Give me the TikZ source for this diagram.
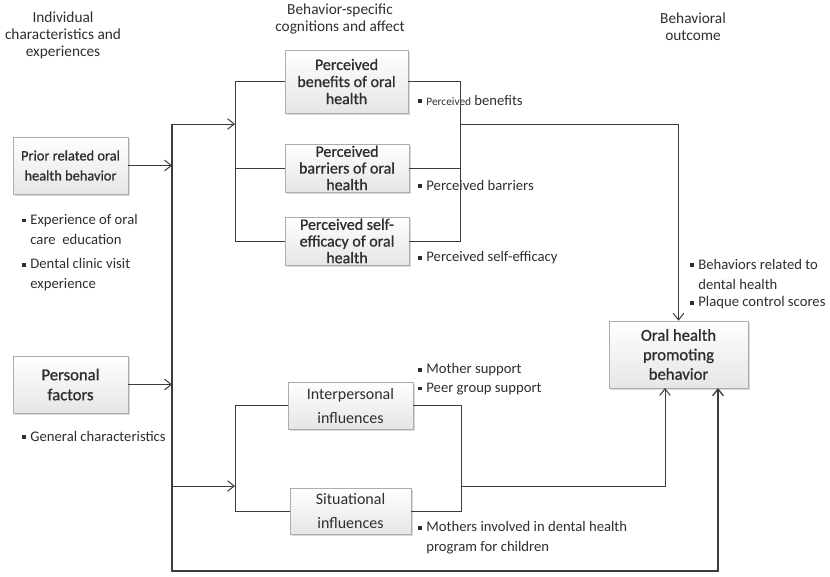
\documentclass[tikz,border=0pt]{standalone}
\usepackage{fontspec}
\setmainfont{Carlito}
\newfontfamily\semibf{Carlito}[FakeBold=0.9]
\usetikzlibrary{arrows.meta,shadows,calc}
\definecolor{ln}{HTML}{3C3C3C}
\definecolor{tx}{HTML}{2E2E2E}
\newcommand{\bul}{\rule[0.32ex]{2.6pt}{2.6pt}\hspace{3.5pt}}
\begin{document}
\begin{tikzpicture}[x=0.75pt,y=-0.75pt,
  box/.style 2 args={draw=gray!65, top color=white, bottom color=gray!20,
    drop shadow={shadow xshift=1.3pt,shadow yshift=-1.3pt,opacity=0.3},
    align=center, inner sep=0pt, text=tx,
    minimum width=#1*0.75pt, minimum height=#2*0.75pt},
  head/.style={align=center, text=tx, font=\fontsize{11.5}{12.8}\selectfont},
  note/.style={align=left, anchor=west, text=tx, inner sep=0pt, font=\fontsize{11}{15}\selectfont},
  conn/.style={draw=ln, line width=0.75pt},
  arr/.style={conn, -{Straight Barb[length=5pt,width=8pt]}}]
\useasboundingbox (0,0) rectangle (830,576);

% headings
\node[head] (h1) at (63,35) {Individual\\characteristics and\\experiences};
\node[head] (h2) at (340,19) {Behavior-specific\\cognitions and affect};
\node[head] (h3) at (693,27) {Behavioral\\outcome};

% boxes
\node[box={123}{63}, font=\semibf\fontsize{12}{12.8}\selectfont] (ben) at (346.5,81.5) {Perceived\\benefits of oral\\health};
\node[box={124}{48}, font=\semibf\fontsize{12}{12.5}\selectfont] (bar) at (347,168) {Perceived\\barriers of oral\\health};
\node[box={124}{48}, font=\semibf\fontsize{12}{12.5}\selectfont] (eff) at (347,241) {Perceived self-\\efficacy of oral\\health};
\node[box={115}{57}, font=\semibf\fontsize{10.8}{15}\selectfont] (prior) at (70.5,165.5) {Prior related oral\\health behavior};
\node[box={115}{57}, font=\semibf\fontsize{12.5}{15}\selectfont] (pers) at (70.5,384.5) {Personal\\factors};
\node[box={125}{47}, font=\fontsize{12}{18}\selectfont] (inter) at (350.5,405.5) {Interpersonal\\influences};
\node[box={121}{46}, font=\fontsize{12}{18}\selectfont] (sit) at (350.5,511) {Situational\\influences};
\node[box={139}{67}, font=\semibf\fontsize{12.5}{14.6}\selectfont] (oral) at (678.5,354.5) {Oral health\\promoting\\behavior};

% notes
\node[note] (n1) at (418,100) {\bul{\fontsize{8.5}{10}\selectfont Perceived} benefits};
\node[note] (n2) at (418,185) {\bul Perceived barriers};
\node[note] (n3) at (418,258) {\bul Perceived self-efficacy};
\node[note] (n4) at (22,229.5) {\bul Experience of oral\\\phantom{\bul}care~~education};
\node[note] (n5) at (22,275) {\bul Dental clinic visit\\\phantom{\bul}experience};
\node[note] (n6) at (22,436) {\bul General characteristics};
\node[note] (n7) at (418,370) {\bul Mother support};
\node[note] (n8) at (418,389) {\bul Peer group support};
\node[note] (n9) at (418,538) {\bul Mothers involved in dental health\\\phantom{\bul}program for children};
\node[note] (n10) at (690,274) {\bul Behaviors related to\\\phantom{\bul}dental health};
\node[note] (n11) at (690,303) {\bul Plaque control scores};

% coordinates
\coordinate (tTop) at (172,124);
\coordinate (tBot) at (172,571);
\coordinate (uL) at (235,124);
\coordinate (uR) at (460,124);
\coordinate (lL) at (235,486);
\coordinate (lR) at (461,486);
\coordinate (tMid) at (172,486);
\coordinate (oIn1) at (665,388);
\coordinate (oIn2) at (718,388);

% trunk
\draw[arr, line width=1pt] (tTop) -- (tBot) -- (tBot -| oIn2) -- (oIn2);
\draw[arr] (tTop) -- (uL);
\draw[arr] (prior.east) -- (prior.east -| tTop);
\draw[arr] (pers.east) -- (pers.east -| tTop);
\draw[arr] (tMid) -- (lL);

% upper bracket
\draw[conn] (ben.west) -- (ben.west -| uL) -- (eff.west -| uL) -- (eff.west);
\draw[conn] (bar.west) -- (bar.west -| uL);
\draw[conn] (ben.east) -- (ben.east -| uR) -- (eff.east -| uR) -- (eff.east);
\draw[conn] (bar.east) -- (bar.east -| uR);
\draw[arr] (uR) -- (uR -| oral.north) -- (oral.north);

% lower bracket
\draw[conn] (inter.west) -- (inter.west -| lL) -- (sit.west -| lL) -- (sit.west);
\draw[conn] (inter.east) -- (inter.east -| lR) -- (sit.east -| lR) -- (sit.east);
\draw[arr] (lR) -- (lR -| oIn1) -- (oIn1);
\end{tikzpicture}
\end{document}
